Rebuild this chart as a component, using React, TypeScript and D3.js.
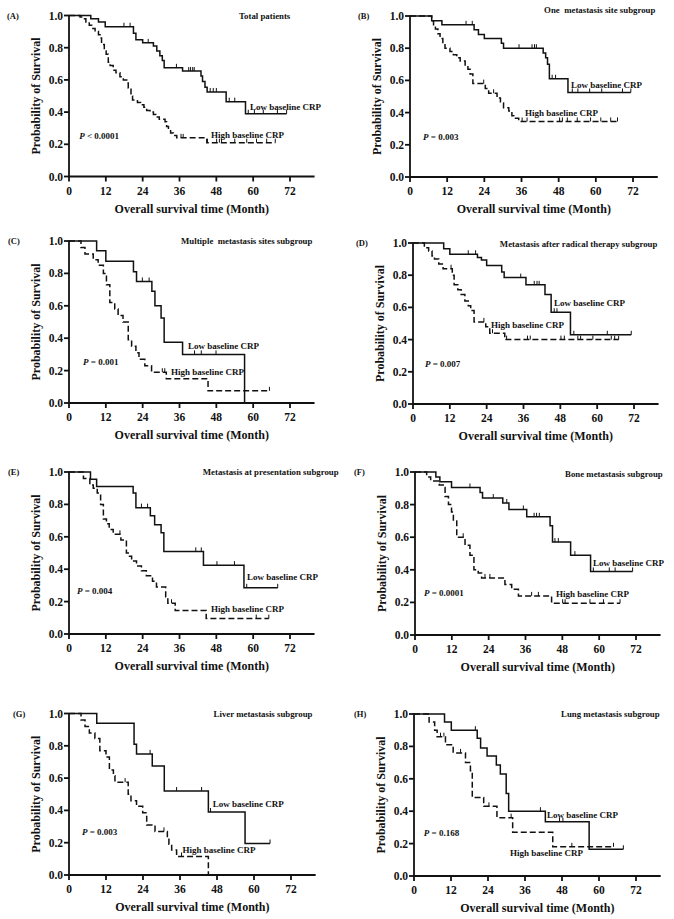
import React from "react";
import * as d3 from "d3";

type Pt = [number, number];

const panelLetters = ["(A)", "(B)", "(C)", "(D)", "(E)", "(F)", "(G)", "(H)"];
const panelTitles = [
  "Total patients",
  "One  metastasis site subgroup",
  "Multiple  metastasis sites subgroup",
  "Metastasis after radical therapy subgroup",
  "Metastasis at presentation subgroup",
  "Bone metastasis subgroup",
  "Liver metastasis subgroup",
  "Lung metastasis subgroup",
];
const pValues = ["< 0.0001", "= 0.003", "= 0.001", "= 0.007", "= 0.004", "= 0.0001", "= 0.003", "= 0.168"];
const xTicks = [0, 12, 24, 36, 48, 60, 72];
const yTicks = [0, 0.2, 0.4, 0.6, 0.8, 1.0];
const lowLabel = "Low baseline CRP";
const highLabel = "High baseline CRP";
const xTitle = "Overall survival time (Month)";
const yTitle = "Probability of Survival";

// step points [month, survival] and censored months
const lowA: Pt[] = [[0, 1], [7.1, 0.98], [9.6, 0.96], [11.8, 0.93], [21, 0.89], [21.8, 0.85], [24, 0.83], [27.5, 0.81], [28.6, 0.78], [29.6, 0.75], [30.4, 0.72], [31, 0.675], [37, 0.655], [43, 0.625], [43.5, 0.59], [44.3, 0.555], [45, 0.525], [51.2, 0.465], [57.5, 0.39]];
const lowAcens = [17.9, 19.9, 25.8, 35, 39, 39.6, 40.3, 40.8, 46, 47, 48, 52.2, 54, 58.4, 60.4, 63.3, 67.9, 70.9];
const highA: Pt[] = [[0, 1], [3.6, 0.99], [4.7, 0.98], [5.5, 0.96], [6.6, 0.94], [7.4, 0.92], [8.5, 0.9], [9.6, 0.88], [10.1, 0.86], [10.6, 0.82], [11.5, 0.78], [12.1, 0.76], [12.8, 0.71], [13.4, 0.69], [14.4, 0.66], [15.3, 0.645], [16.6, 0.62], [17.7, 0.6], [18.8, 0.58], [19.3, 0.55], [20.2, 0.5], [20.7, 0.475], [22.3, 0.46], [23.3, 0.445], [24.4, 0.43], [25.3, 0.41], [26.4, 0.4], [27.5, 0.385], [28.3, 0.37], [29.4, 0.355], [31.3, 0.34], [31.8, 0.31], [32.4, 0.29], [33.1, 0.27], [34, 0.255], [35.1, 0.24], [44.9, 0.21]];
const highAcens = [36.5, 37.2, 45.1, 48.1, 49, 49.7, 54, 57.9, 61.1, 64.4, 67.2];

const lowB: Pt[] = [[0, 1], [7, 0.97], [10.3, 0.945], [20.7, 0.915], [22.1, 0.885], [24, 0.86], [29.5, 0.83], [30.2, 0.8], [43, 0.77], [43.8, 0.74], [44.4, 0.7], [45, 0.61], [51, 0.525]];
const lowBcens = [18.1, 20.1, 35.2, 39.4, 40.2, 40.8, 45.9, 47, 52.4, 54.2, 58, 61.9, 68.6, 71.3];
const highB: Pt[] = [[0, 1], [7, 0.97], [7.6, 0.94], [8.2, 0.92], [9, 0.89], [9.7, 0.86], [10.6, 0.83], [11.3, 0.8], [12.9, 0.78], [14, 0.76], [15.1, 0.74], [16.2, 0.72], [17.8, 0.69], [18.7, 0.67], [19.4, 0.64], [20.3, 0.58], [24.3, 0.55], [25.4, 0.52], [28.1, 0.49], [29.2, 0.46], [30.2, 0.43], [31.9, 0.41], [32.9, 0.38], [33.5, 0.365], [35.1, 0.345]];
const highBcens = [23.8, 27, 36.2, 37.8, 48.3, 49.2, 50.8, 54, 58.3, 61.6, 64.8, 67];

const lowC: Pt[] = [[0, 1], [9, 0.94], [12, 0.875], [21, 0.81], [22, 0.75], [27, 0.69], [28, 0.6], [30, 0.525], [31, 0.375], [37, 0.3], [57.2, 0]];
const lowCcens = [23.9, 26.1, 40.9, 43.1, 47.9];
const highC: Pt[] = [[0, 1], [3.9, 0.96], [5.2, 0.92], [7.9, 0.885], [9.5, 0.85], [11.2, 0.8], [12.2, 0.73], [13.3, 0.62], [14.9, 0.58], [16, 0.54], [17.6, 0.5], [19.3, 0.39], [20.4, 0.35], [21.8, 0.31], [22.8, 0.27], [24.7, 0.23], [26.9, 0.19], [31.7, 0.15], [45.3, 0.075]];
const highCcens = [30.4, 31.2, 65.3];

const lowD: Pt[] = [[0, 1], [10, 0.965], [12, 0.93], [21, 0.91], [22.3, 0.895], [24, 0.86], [28.9, 0.82], [29.7, 0.785], [36.8, 0.74], [43, 0.68], [45, 0.57], [51.3, 0.43]];
const lowDcens = [18, 20.4, 35.1, 39.5, 40.4, 41.1, 46, 46.9, 52.4, 63.3, 71.1];
const highD: Pt[] = [[0, 1], [3.7, 0.97], [5.1, 0.95], [6.2, 0.92], [7, 0.9], [8.4, 0.87], [9.8, 0.84], [12.8, 0.8], [13.4, 0.74], [14.6, 0.71], [15.7, 0.68], [16.9, 0.64], [18, 0.61], [18.8, 0.58], [19.9, 0.51], [23.7, 0.48], [25, 0.44], [29.9, 0.4]];
const highDcens = [12.4, 23.1, 25.9, 30.5, 37.3, 38.2, 48.2, 49.3, 53.7, 54.6, 58.6, 64.6, 65.7, 67];

const lowE: Pt[] = [[0, 1], [7, 0.955], [9, 0.91], [20.9, 0.87], [21.8, 0.78], [26.5, 0.73], [27.9, 0.675], [30, 0.625], [30.9, 0.51], [43.8, 0.425], [57, 0.285]];
const lowEcens = [23.6, 25.6, 41.3, 43.1, 48.2, 53.9, 57.9, 68];
const highE: Pt[] = [[0, 1], [4.7, 0.96], [6.8, 0.92], [7.9, 0.9], [9.2, 0.87], [10.3, 0.8], [11.2, 0.71], [12.2, 0.68], [13.1, 0.645], [14.4, 0.615], [16.9, 0.58], [18.7, 0.5], [19.3, 0.48], [20.4, 0.45], [22, 0.42], [23.6, 0.39], [25.2, 0.36], [27.2, 0.325], [28.5, 0.29], [31.5, 0.23], [32.2, 0.19], [34.6, 0.145], [44.7, 0.095]];
const highEcens = [16.6, 33.4, 61, 65.1];

const lowF: Pt[] = [[0, 1], [6.8, 0.97], [8.1, 0.94], [11.9, 0.905], [21.2, 0.875], [22, 0.84], [28.6, 0.81], [30.6, 0.77], [36.4, 0.725], [44, 0.67], [44.8, 0.57], [50.7, 0.49], [57.2, 0.39]];
const lowFcens = [17.9, 25.5, 29.9, 35.3, 38.8, 39.6, 40.5, 45.6, 46.7, 52.1, 58.1, 63.3, 65.2, 70.9];
const highF: Pt[] = [[0, 1], [3.8, 0.97], [5.1, 0.945], [7.9, 0.92], [9.2, 0.905], [9.8, 0.85], [10.9, 0.8], [11.9, 0.755], [12.5, 0.7], [13.6, 0.6], [16.3, 0.55], [17.9, 0.49], [19.2, 0.4], [20.6, 0.38], [21.7, 0.35], [29.3, 0.31], [31.5, 0.28], [33.7, 0.24], [44.5, 0.195]];
const highFcens = [15.7, 22.8, 24.4, 38, 40.2, 48.1, 48.9, 57, 61.4, 66.8];

const lowG: Pt[] = [[0, 1], [9, 0.94], [21.1, 0.81], [21.9, 0.75], [27, 0.675], [30.9, 0.52], [45.2, 0.39], [57.1, 0.195]];
const lowGcens = [26.3, 34.9, 43, 45.9, 65.2];
const highG: Pt[] = [[0, 1], [3.9, 0.96], [5.2, 0.92], [6.6, 0.88], [8.4, 0.845], [10, 0.77], [12, 0.73], [13.1, 0.65], [14.4, 0.615], [14.9, 0.575], [19.2, 0.5], [20.1, 0.46], [21.9, 0.425], [23.9, 0.385], [25.2, 0.31], [27.9, 0.27], [31.9, 0.23], [32.4, 0.19], [33.3, 0.155], [34.9, 0.115], [45.2, 0]];
const highGcens = [18.2, 30.8, 36.5];

const lowH: Pt[] = [[0, 1], [9.9, 0.95], [12.1, 0.9], [20.5, 0.85], [21.6, 0.79], [23.7, 0.74], [26.7, 0.685], [28, 0.63], [29.9, 0.51], [30.7, 0.4], [42.6, 0.335], [56.8, 0.165]];
const lowHcens = [19.9, 41, 47.2, 48.3, 67.9];
const highH: Pt[] = [[0, 1], [4.9, 0.95], [6.7, 0.9], [7.5, 0.86], [10.2, 0.81], [12.7, 0.76], [16.7, 0.7], [18.3, 0.65], [18.9, 0.485], [22.6, 0.43], [26.9, 0.36], [32, 0.27], [45, 0.18]];
const highHcens = [8.6, 9.7, 15.1, 24.3, 31.5, 51.2, 64.7];

const lowCurves = [lowA, lowB, lowC, lowD, lowE, lowF, lowG, lowH];
const lowCens = [lowAcens, lowBcens, lowCcens, lowDcens, lowEcens, lowFcens, lowGcens, lowHcens];
const highCurves = [highA, highB, highC, highD, highE, highF, highG, highH];
const highCens = [highAcens, highBcens, highCcens, highDcens, highEcens, highFcens, highGcens, highHcens];

// layout of each panel (pixels) and label anchors (data units)
const boxes = [
  { x: 69, top: 15.5, bottom: 176.5, w: 221, lx: 7 },
  { x: 410, top: 16, bottom: 177, w: 223, lx: 358 },
  { x: 69, top: 241, bottom: 403, w: 221, lx: 8 },
  { x: 413, top: 243, bottom: 404, w: 221, lx: 356 },
  { x: 69, top: 472, bottom: 634, w: 221, lx: 8 },
  { x: 415, top: 472, bottom: 635, w: 221, lx: 354 },
  { x: 69, top: 713.5, bottom: 875, w: 222, lx: 13 },
  { x: 414, top: 714, bottom: 876, w: 222, lx: 354 },
];
const anchors = [
  { low: [59, 0.432], high: [46.3, 0.258], p: [3.3, 0.252], title: [55.4, 1.0] },
  { low: [52, 0.571], high: [37.1, 0.398], p: [4.2, 0.248], title: [43.3, 1.037] },
  { low: [38.8, 0.352], high: [33.2, 0.191], p: [4.6, 0.253], title: [36.5, 1.0] },
  { low: [45.9, 0.627], high: [25.4, 0.49], p: [3.9, 0.248], title: [28.3, 0.994] },
  { low: [58, 0.352], high: [46.3, 0.154], p: [2.6, 0.265], title: [43.6, 1.0] },
  { low: [58, 0.442], high: [45.9, 0.252], p: [2.9, 0.258], title: [48.9, 0.988] },
  { low: [46.6, 0.44], high: [36.8, 0.155], p: [4.2, 0.266], title: [46.9, 1.0] },
  { low: [43.1, 0.377], high: [31.1, 0.142], p: [3.2, 0.265], title: [47.7, 1.0] },
];

const font = "'Liberation Serif', 'Times New Roman', serif";

const survAt = (pts: Pt[], t: number) => {
  let s = pts[0][1];
  for (const [tt, ss] of pts) if (tt <= t) s = ss;
  return s;
};

function Curve({ pts, cens, x, y, dashed }: any) {
  const end = Math.max(pts[pts.length - 1][0], ...cens);
  const full: Pt[] = [...pts, [end, pts[pts.length - 1][1]]];
  const line = d3
    .line<Pt>()
    .x((d) => x(d[0]))
    .y((d) => y(d[1]))
    .curve(d3.curveStepAfter);
  return (
    <g>
      <path d={line(full) || ""} fill="none" stroke="#111" strokeWidth={1.5} strokeDasharray={dashed ? "6,3" : undefined} />
      {cens.map((t: number, i: number) => {
        const s = survAt(pts, t);
        return <line key={i} x1={x(t)} x2={x(t)} y1={y(s)} y2={y(s) - 4} stroke="#111" strokeWidth={1} />;
      })}
    </g>
  );
}

function Panel({ i }: { i: number }) {
  const b = boxes[i];
  const a = anchors[i];
  const x = d3.scaleLinear().domain([0, 72]).range([b.x, b.x + b.w]);
  const y = d3.scaleLinear().domain([0, 1]).range([b.bottom, b.top]);
  const midY = (b.top + b.bottom) / 2;
  return (
    <g fontFamily={font} fontWeight="bold" fill="#111">
      <text x={b.lx} y={b.top + 3} fontSize={8.5}>{panelLetters[i]}</text>
      <text x={x(a.title[0])} y={y(a.title[1])} dy="0.35em" fontSize={8.8} style={{ whiteSpace: "pre" }}>
        {panelTitles[i]}
      </text>
      {/* axes */}
      <line x1={b.x} x2={b.x} y1={y(0)} y2={y(1) - 0.5} stroke="#111" strokeWidth={1.8} />
      <line x1={b.x} x2={x(80)} y1={y(0)} y2={y(0)} stroke="#111" strokeWidth={1.8} />
      {yTicks.map((t) => (
        <g key={t}>
          <line x1={b.x - 5} x2={b.x} y1={y(t)} y2={y(t)} stroke="#111" strokeWidth={1.8} />
          <text x={b.x - 6} y={y(t)} dy="0.35em" textAnchor="end" fontSize={11.5}>{t.toFixed(1)}</text>
        </g>
      ))}
      {xTicks.map((t) => (
        <g key={t}>
          <line x1={x(t)} x2={x(t)} y1={y(0)} y2={y(0) + 5} stroke="#111" strokeWidth={1.8} />
          <text x={x(t)} y={y(0) + 18} textAnchor="middle" fontSize={11.5}>{t}</text>
        </g>
      ))}
      <text x={x(40)} y={b.bottom + 36} textAnchor="middle" fontSize={12}>{xTitle}</text>
      <text transform={`translate(${b.x - 29},${midY}) rotate(-90)`} textAnchor="middle" fontSize={12}>{yTitle}</text>
      {/* curves */}
      <Curve pts={lowCurves[i]} cens={lowCens[i]} x={x} y={y} />
      <Curve pts={highCurves[i]} cens={highCens[i]} x={x} y={y} dashed />
      <text x={x(a.low[0])} y={y(a.low[1])} dy="0.35em" fontSize={9}>{lowLabel}</text>
      <text x={x(a.high[0])} y={y(a.high[1])} dy="0.35em" fontSize={9}>{highLabel}</text>
      <text x={x(a.p[0])} y={y(a.p[1])} dy="0.35em" fontSize={9}>
        <tspan fontStyle="italic">P</tspan> {pValues[i]}
      </text>
    </g>
  );
}

export default function App() {
  return (
    <svg width={674} height={919} style={{ position: "absolute", left: 0, top: 0, background: "#fff" }}>
      <rect width={674} height={919} fill="#fff" />
      {panelLetters.map((_, i) => (
        <Panel key={i} i={i} />
      ))}
    </svg>
  );
}
